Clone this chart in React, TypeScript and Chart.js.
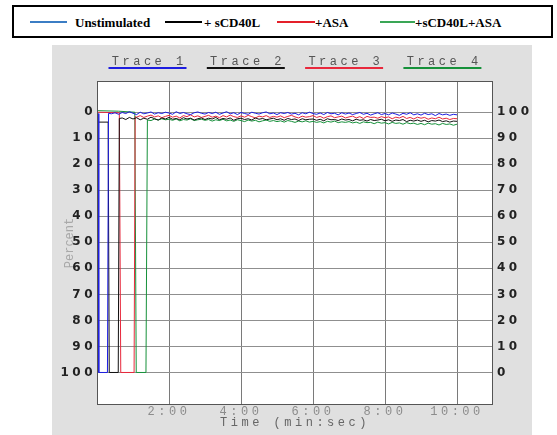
import { useEffect, useRef } from 'react';
import { Chart, registerables } from 'chart.js';

Chart.register(...registerables);

// ---------- data ----------
const seriesNames = ['Unstimulated', '+ sCD40L', '+ASA', '+sCD40L+ASA'];
const legendColors = ['#3b7dc4', '#000000', '#e4202a', '#3aa656'];
const traceLabels = ['Trace 1', 'Trace 2', 'Trace 3', 'Trace 4'];
const traceColors = ['#1d1de0', '#111111', '#e8283c', '#16913a'];

const xTickValues = [2, 4, 6, 8, 10];
const xTickLabels = ['2:00', '4:00', '6:00', '8:00', '10:00'];
const yTickValues = [0, 10, 20, 30, 40, 50, 60, 70, 80, 90, 100];

// shared sample times (min) for the settled part of each trace
const baseTimes = [
  0.4, 0.5, 0.6, 0.7, 0.8, 0.9,
  1.0, 1.1, 1.2, 1.3, 1.4, 1.5, 1.6, 1.7, 1.8, 1.9,
  2.0, 2.1, 2.2, 2.3, 2.4, 2.5, 2.6, 2.7, 2.8, 2.9,
  3.0, 3.1, 3.2, 3.3, 3.4, 3.5, 3.6, 3.7, 3.8, 3.9,
  4.0, 4.1, 4.2, 4.3, 4.4, 4.5, 4.6, 4.7, 4.8, 4.9,
  5.0, 5.1, 5.2, 5.3, 5.4, 5.5, 5.6, 5.7, 5.8, 5.9,
  6.0, 6.1, 6.2, 6.3, 6.4, 6.5, 6.6, 6.7, 6.8, 6.9,
  7.0, 7.1, 7.2, 7.3, 7.4, 7.5, 7.6, 7.7, 7.8, 7.9,
  8.0, 8.1, 8.2, 8.3, 8.4, 8.5, 8.6, 8.7, 8.8, 8.9,
  9.0, 9.1, 9.2, 9.3, 9.4, 9.5, 9.6, 9.7, 9.8, 9.9,
  10.0,
];

// start-up (calibration) segment of each trace: times (min) and percent
const unstimHeadT = [0, 0.03, 0.05, 0.29, 0.32];
const unstimHeadY = [0.5, 0.5, 100, 100, 0.4];
const cd40lHeadT = [0, 0.31, 0.34, 0.59, 0.62];
const cd40lHeadY = [3.8, 3.8, 100, 100, 2.4];
const asaHeadT = [0, 0.62, 0.66, 1.03, 1.06];
const asaHeadY = [0.0, 0.2, 100, 100, 1.7];
const bothHeadT = [0, 0.6, 1.05, 1.09, 1.36, 1.4];
const bothHeadY = [-0.6, -0.4, 0.0, 100, 100, 3.0];

// settled values (percent), aligned to the end of baseTimes
const unstimBase = [
  0.6, 0.2, 0.8, 0.1, 0.5, -0.2,
  0.4, 0.9, 0.0, 0.6, 0.3, -0.1, 0.7, 0.2, 0.5, 0.0,
  0.3, 0.8, -0.2, 0.5, 0.1, 0.6, 0.9, 0.2, -0.1, 0.4,
  0.7, 0.1, 0.5, 0.0, 0.8, 0.3, -0.2, 0.6, 0.2, 0.9,
  0.1, 0.5, 0.8, 0.0, 0.4, 0.7, 0.2, -0.1, 0.6, 0.3,
  0.9, 0.2, 0.5, 0.1, 0.7, 0.4, 1.0, 0.2, 0.6, 0.0,
  0.5, 0.8, 0.3, 0.9, 0.1, 0.6, 0.4, 1.0, 0.2, 0.7,
  0.3, 0.9, 0.5, 0.1, 0.8, 0.4, 1.1, 0.6, 0.2, 0.9,
  0.5, 1.0, 0.3, 0.7, 1.2, 0.4, 0.8, 0.2, 1.0, 0.6,
  1.1, 0.4, 0.9, 0.6, 1.3, 0.5, 1.0, 0.7, 1.2, 0.8,
  1.0,
];
const cd40lBase = [
  2.2, 2.8, 2.0,
  2.6, 2.1, 2.9, 2.3, 2.7, 1.9, 2.5, 3.0, 2.2, 2.6,
  2.0, 2.7, 2.4, 2.9, 2.1, 2.6, 2.3, 3.0, 2.5, 2.2,
  2.8, 2.3, 2.6, 2.0, 2.9, 2.4, 2.7, 2.2, 3.1, 2.5,
  2.3, 2.8, 2.5, 3.0, 2.2, 2.7, 2.4, 2.9, 2.6, 2.3,
  2.9, 2.5, 3.1, 2.4, 2.8, 2.6, 3.2, 2.5, 2.9, 2.7,
  2.6, 3.1, 2.7, 3.3, 2.5, 2.9, 2.8, 3.2, 2.6, 3.0,
  2.8, 3.3, 2.7, 3.1, 2.9, 3.4, 2.8, 3.2, 3.0, 2.7,
  3.3, 2.9, 3.5, 3.0, 3.2, 2.8, 3.6, 3.1, 3.4, 3.0,
  3.5, 3.1, 3.7, 3.2, 3.4, 3.0, 3.6, 3.3, 3.8, 3.4,
  3.5,
];
const asaBase = [
  1.9, 1.3, 2.0, 1.5, 1.1, 1.8, 1.4, 2.1, 1.6,
  1.2, 1.9, 1.5, 2.2, 1.3, 1.7, 1.0, 1.8, 1.4, 2.0,
  1.6, 1.2, 1.9, 1.5, 2.1, 1.3, 1.8, 1.1, 1.7, 2.0,
  1.4, 1.9, 1.2, 1.7, 2.2, 1.5, 1.8, 1.3, 2.0, 1.6,
  1.9, 1.4, 2.1, 1.6, 1.2, 1.8, 2.2, 1.5, 1.9, 1.7,
  1.3, 2.0, 1.6, 2.3, 1.7, 1.4, 2.1, 1.8, 1.5, 2.2,
  1.8, 1.5, 2.2, 1.7, 2.4, 1.6, 2.0, 1.9, 2.3, 1.7,
  2.1, 1.8, 2.5, 1.9, 2.2, 1.6, 2.4, 2.0, 2.6, 1.9,
  2.3, 2.0, 2.7, 2.2, 2.5, 1.9, 2.6, 2.3, 2.8, 2.4,
  2.5,
];
const bothBase = [
  3.2, 2.6, 3.0, 2.5, 2.9,
  2.7, 3.1, 2.6, 3.3, 2.8, 3.0, 2.5, 3.2, 2.9, 2.7,
  3.1, 2.8, 3.4, 2.9, 3.2, 2.7, 3.3, 3.0, 3.5, 2.9,
  3.2, 3.6, 3.0, 3.4, 3.1, 3.7, 3.3, 3.0, 3.5, 3.2,
  3.6, 3.3, 3.8, 3.2, 3.5, 3.9, 3.4, 3.7, 3.3, 3.8,
  3.5, 3.9, 3.6, 4.1, 3.5, 3.8, 3.4, 4.0, 3.7, 3.9,
  3.6, 4.1, 3.8, 4.3, 3.7, 4.0, 3.9, 4.4, 3.8, 4.2,
  4.0, 4.5, 3.9, 4.3, 4.1, 4.6, 4.0, 4.4, 4.2, 4.7,
  4.3, 4.8, 4.2, 4.6, 4.4, 4.9, 4.3, 4.7, 4.5, 5.0,
  4.6,
];

function buildPoints(headT: number[], headY: number[], base: number[]) {
  const pts = headT.map((t, i) => ({ x: t, y: headY[i] }));
  const offset = baseTimes.length - base.length;
  base.forEach((v, i) => pts.push({ x: baseTimes[offset + i], y: v }));
  return pts;
}

const MONO = '"Liberation Mono", "DejaVu Sans Mono", monospace';
const SPACING = '3.5px';

const panelPlugin = {
  id: 'panel',
  beforeDraw(chart: any) {
    const { ctx, chartArea: a } = chart;
    ctx.save();
    ctx.fillStyle = '#ffffff';
    ctx.fillRect(a.left, a.top, a.right - a.left, a.bottom - a.top);
    ctx.restore();
    // stretched-looking instrument text for all axis text
    ctx.letterSpacing = SPACING;
  },
  afterDatasetsDraw(chart: any) {
    const { ctx, chartArea: a } = chart;
    ctx.save();
    ctx.strokeStyle = '#555555';
    ctx.lineWidth = 1;
    ctx.strokeRect(a.left + 0.5, a.top + 0.5, a.right - a.left - 1, a.bottom - a.top - 1);
    // y-axis title, rotated
    ctx.letterSpacing = '0px';
    ctx.translate(18, (a.top + a.bottom) / 2);
    ctx.rotate(-Math.PI / 2);
    ctx.fillStyle = '#a8a8a8';
    ctx.font = '12px ' + MONO;
    ctx.textAlign = 'center';
    ctx.textBaseline = 'middle';
    ctx.fillText('Percent', 0, 0);
    ctx.restore();
    ctx.letterSpacing = SPACING;
  },
  afterDraw(chart: any) {
    const { ctx, chartArea: a } = chart;
    ctx.save();
    ctx.letterSpacing = SPACING;
    ctx.font = '12px ' + MONO;
    ctx.textAlign = 'center';
    ctx.textBaseline = 'middle';
    traceLabels.forEach((label, i) => {
      const cx = a.left + 50.5 + i * 98.3;
      ctx.fillStyle = '#555555';
      ctx.fillText(label, cx + 1.75, 17);
      ctx.fillStyle = traceColors[i];
      ctx.fillRect(cx - 39, 22, 78, 2);
    });
    ctx.restore();
    ctx.letterSpacing = '0px';
  },
};

export default function App() {
  const ref = useRef<HTMLCanvasElement | null>(null);

  useEffect(() => {
    const canvas = ref.current;
    if (!canvas) return;
    const heads = [
      [unstimHeadT, unstimHeadY, unstimBase],
      [cd40lHeadT, cd40lHeadY, cd40lBase],
      [asaHeadT, asaHeadY, asaBase],
      [bothHeadT, bothHeadY, bothBase],
    ] as number[][][];
    const chart = new Chart(canvas, {
      type: 'line',
      data: {
        datasets: heads.map((h, i) => ({
          label: seriesNames[i],
          data: buildPoints(h[0], h[1], h[2]),
          borderColor: traceColors[i],
          backgroundColor: traceColors[i],
          borderWidth: 1,
          pointRadius: 0,
          tension: 0,
          fill: false,
        })),
      },
      options: {
        responsive: false,
        animation: false,
        events: [],
        layout: { padding: { top: 36, left: 0, right: 0, bottom: 0 } },
        plugins: { legend: { display: false }, tooltip: { enabled: false }, title: { display: false } },
        scales: {
          x: {
            type: 'linear',
            min: 0,
            max: 11,
            afterBuildTicks: (axis: any) => {
              axis.ticks = xTickValues.map((v) => ({ value: v }));
            },
            afterFit: (axis: any) => {
              axis.height = 30;
            },
            grid: { color: '#7a7a7a', lineWidth: 1, drawTicks: false },
            border: { display: false },
            ticks: {
              z: 1,
              autoSkip: false,
              maxRotation: 0,
              padding: 0,
              color: '#8c8c8c',
              font: { family: MONO, size: 12 },
              callback: (v: any) => xTickLabels[xTickValues.indexOf(Number(v))] ?? '',
            },
            title: {
              display: true,
              text: 'Time (min:sec)',
              color: '#666666',
              font: { family: MONO, size: 12 },
              padding: { top: 0, bottom: 5 },
            },
          },
          y: {
            type: 'linear',
            position: 'left',
            reverse: true,
            min: -12,
            max: 112.5,
            afterBuildTicks: (axis: any) => {
              axis.ticks = yTickValues.map((v) => ({ value: v }));
            },
            afterFit: (axis: any) => {
              axis.width = 45;
            },
            grid: { color: '#8f8f8f', lineWidth: 1, drawTicks: false },
            border: { display: false },
            ticks: {
              z: 1,
              padding: 1,
              color: '#222222',
              font: { family: '"DejaVu Sans", sans-serif', size: 12, weight: 'bold' },
            },
          },
          y2: {
            type: 'linear',
            position: 'right',
            min: -12.5,
            max: 112,
            afterBuildTicks: (axis: any) => {
              axis.ticks = yTickValues.map((v) => ({ value: v }));
            },
            afterFit: (axis: any) => {
              axis.width = 39;
            },
            grid: { display: false, drawTicks: false },
            border: { display: false },
            ticks: {
              z: 1,
              padding: 4,
              color: '#222222',
              font: { family: '"DejaVu Sans", sans-serif', size: 12, weight: 'bold' },
            },
          },
        },
      } as any,
      plugins: [panelPlugin],
    });
    return () => chart.destroy();
  }, []);

  const legendPos = [
    { line: 30, w: 37, text: 75 },
    { line: 165, w: 37, text: 204 },
    { line: 277, w: 38, text: 315 },
    { line: 380, w: 35, text: 415 },
  ];

  return (
    <div style={{ position: 'fixed', left: 0, top: 0, width: 557, height: 435, background: '#ffffff', overflow: 'hidden' }}>
      <div
        style={{
          position: 'absolute',
          left: 12,
          top: 5,
          width: 541,
          height: 33,
          border: '2px solid #000',
          boxSizing: 'border-box',
        }}
      />
      {seriesNames.map((name, i) => (
        <div key={name}>
          <div
            style={{
              position: 'absolute',
              left: legendPos[i].line,
              top: 21,
              width: legendPos[i].w,
              height: 2,
              background: legendColors[i],
            }}
          />
          <div
            style={{
              position: 'absolute',
              left: legendPos[i].text,
              top: 16,
              fontFamily: '"Liberation Serif", "Times New Roman", serif',
              fontWeight: 'bold',
              fontSize: 13,
              lineHeight: '13px',
              color: '#000',
              whiteSpace: 'nowrap',
            }}
          >
            {name}
          </div>
        </div>
      ))}
      <canvas
        ref={ref}
        width={480}
        height={390}
        style={{ position: 'absolute', left: 52, top: 45, width: 480, height: 390, background: '#e0e0e0' }}
      />
    </div>
  );
}
